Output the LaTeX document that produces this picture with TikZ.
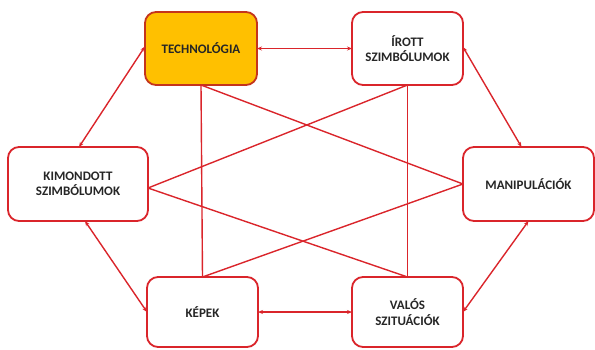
\documentclass[tikz,border=0pt]{standalone}
\usepackage{fontspec}
\setmainfont{Carlito}
\usetikzlibrary{arrows.meta}
\definecolor{lnred}{RGB}{218,37,43}
\definecolor{techfill}{RGB}{255,192,0}
\definecolor{techline}{RGB}{196,52,28}
\tikzset{
  box/.style={draw=lnred, line width=1.8pt, rounded corners=11pt, fill=white,
    inner sep=2pt, outer sep=0pt, align=center,
    font=\fontsize{13pt}{15.5pt}\selectfont\bfseries, text=black!85},
  link/.style={draw=lnred, line width=1.4pt},
  dlink/.style={link, {Stealth[length=5pt,width=4pt]}-{Stealth[length=5pt,width=4pt]}},
}
\begin{document}
\begin{tikzpicture}[x=1pt,y=-1pt]
\useasboundingbox (0,0) rectangle (595,349);
% nodes
\node[box, minimum width=112pt, minimum height=73pt, fill=techfill, draw=techline] (tech) at (201,48.5) {TECHNOLÓGIA};
\node[box, minimum width=111pt, minimum height=73pt] (irott) at (407.5,48.5) {ÍROTT\\SZIMBÓLUMOK};
\node[box, minimum width=140pt, minimum height=74pt] (kimond) at (78,184) {KIMONDOTT\\SZIMBÓLUMOK};
\node[box, minimum width=131pt, minimum height=74pt] (manip) at (528.5,184) {MANIPULÁCIÓK};
\node[box, minimum width=111pt, minimum height=70pt] (kepek) at (202.5,312) {KÉPEK};
\node[box, minimum width=111pt, minimum height=70pt] (valos) at (407.5,312) {VALÓS\\SZITUÁCIÓK};
% crossing lines
\draw[link] (tech.south) -- (kepek.north);
\draw[link] (irott.south) -- (valos.north);
\draw[link] (tech.south) -- (manip.west);
\draw[link] (irott.south) -- ([yshift=-4pt]kimond.east);
\draw[link] (kepek.north) -- (manip.west);
\draw[link] (valos.north) -- ([yshift=-4pt]kimond.east);
% arrows
\draw[dlink] (tech.east) -- (irott.west);
\draw[dlink] (kepek.east) -- (valos.west);
\draw[dlink] ([yshift=2pt]tech.west) -- ([xshift=1pt]kimond.north);
\draw[dlink] ([yshift=1.5pt]irott.east) -- ([xshift=-7pt]manip.north);
\draw[dlink] ([xshift=7pt]kimond.south) -- (kepek.west);
\draw[dlink] (manip.south) -- (valos.east);
\end{tikzpicture}
\end{document}
